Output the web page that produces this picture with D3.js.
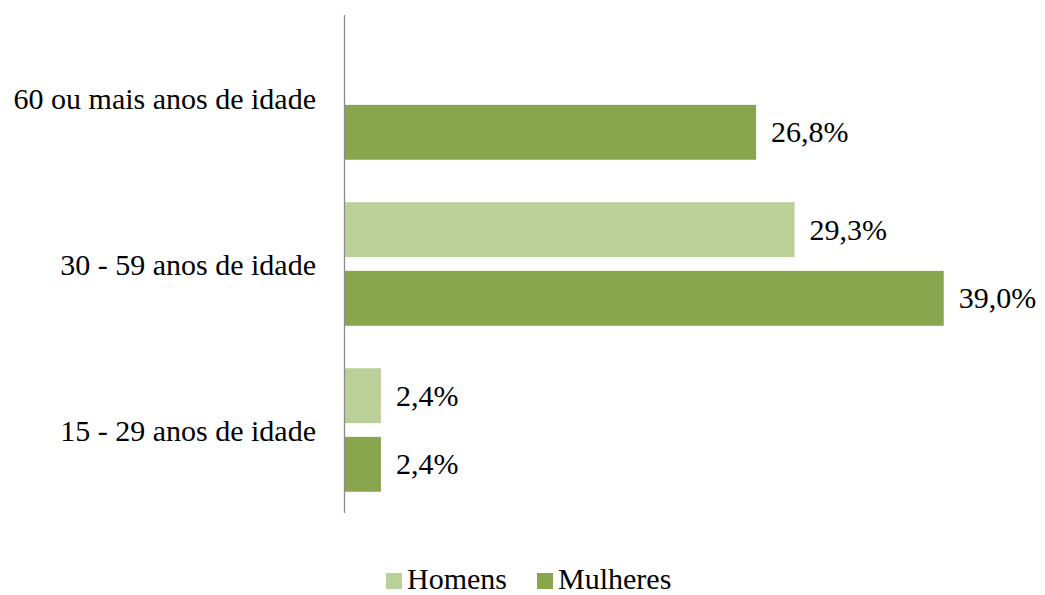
<!DOCTYPE html>
<html>
<head>
<meta charset="utf-8">
<script src="https://cdn.jsdelivr.net/npm/d3@7"></script>
<style>
  html, body { margin: 0; padding: 0; background: #fff; }
  svg { display: block; }
</style>
</head>
<body>
<svg id="chart" width="1045" height="595"></svg>
<script>
// Age groups, listed top to bottom
const categories = ["60 ou mais anos de idade", "30 - 59 anos de idade", "15 - 29 anos de idade"];
const seriesNames = ["Homens", "Mulheres"];
// Percentages per age group (null = no value)
const homens   = [null, 29.3, 2.4];
const mulheres = [26.8, 39.0, 2.4];
const colors = { Homens: "#bbcf98", Mulheres: "#89a54e" };

const FONT = "'Liberation Serif', 'Times New Roman', 'DejaVu Serif', serif";
const FS = 30;

const svg = d3.select("#chart");
const axisX = 344, plotTop = 15, plotBottom = 513;

const x = d3.scaleLinear().domain([0, 45]).range([axisX, axisX + 692]);
const y0 = d3.scaleBand().domain(categories).range([plotTop, plotBottom])
  .paddingInner(0.256).paddingOuter(0.128);
const y1 = d3.scaleBand().domain(seriesNames).range([0, y0.bandwidth()])
  .paddingInner(0.2).paddingOuter(0);

const rows = categories.map((c, i) => ({
  category: c,
  values: [
    { series: "Homens", value: homens[i] },
    { series: "Mulheres", value: mulheres[i] }
  ].filter(d => d.value != null)
}));

const fmt = v => d3.format(".1f")(v).replace(".", ",") + "%";

const groups = svg.append("g").selectAll("g")
  .data(rows).join("g")
  .attr("transform", d => `translate(0,${y0(d.category)})`);

groups.selectAll("rect")
  .data(d => d.values).join("rect")
  .attr("x", x(0))
  .attr("y", d => y1(d.series))
  .attr("width", d => x(d.value) - x(0))
  .attr("height", y1.bandwidth())
  .attr("fill", d => colors[d.series]);

groups.selectAll("text.val")
  .data(d => d.values).join("text")
  .attr("class", "val")
  .attr("x", d => x(d.value) + 15)
  .attr("y", d => y1(d.series) + y1.bandwidth() / 2)
  .attr("dy", "0.33em")
  .style("font-family", FONT)
  .attr("font-size", FS)
  .attr("fill", "#000")
  .text(d => fmt(d.value));

// Category axis
const yAxis = d3.axisLeft(y0).tickSize(0).tickPadding(28);
const ax = svg.append("g").attr("transform", `translate(${axisX},0)`).call(yAxis);
ax.attr("font-family", null);
ax.select(".domain").attr("stroke", "#8c8c8c").attr("stroke-width", 1.3)
  .attr("d", `M0.5,${plotTop}V${plotBottom}`);
ax.selectAll(".tick text")
  .attr("font-size", FS)
  .style("font-family", FONT)
  .attr("fill", "#000")
  .attr("dy", "0.38em");

// Legend
const legendItems = [
  { name: "Homens", x: 386 },
  { name: "Mulheres", x: 537 }
];
const lg = svg.append("g").selectAll("g").data(legendItems).join("g")
  .attr("transform", d => `translate(${d.x},573)`);
lg.append("rect").attr("width", 16).attr("height", 16)
  .attr("fill", d => colors[d.name]);
lg.append("text").attr("x", 21).attr("y", 16)
  .style("font-family", FONT)
  .attr("font-size", FS).attr("fill", "#000")
  .text(d => d.name);
</script>
</body>
</html>
